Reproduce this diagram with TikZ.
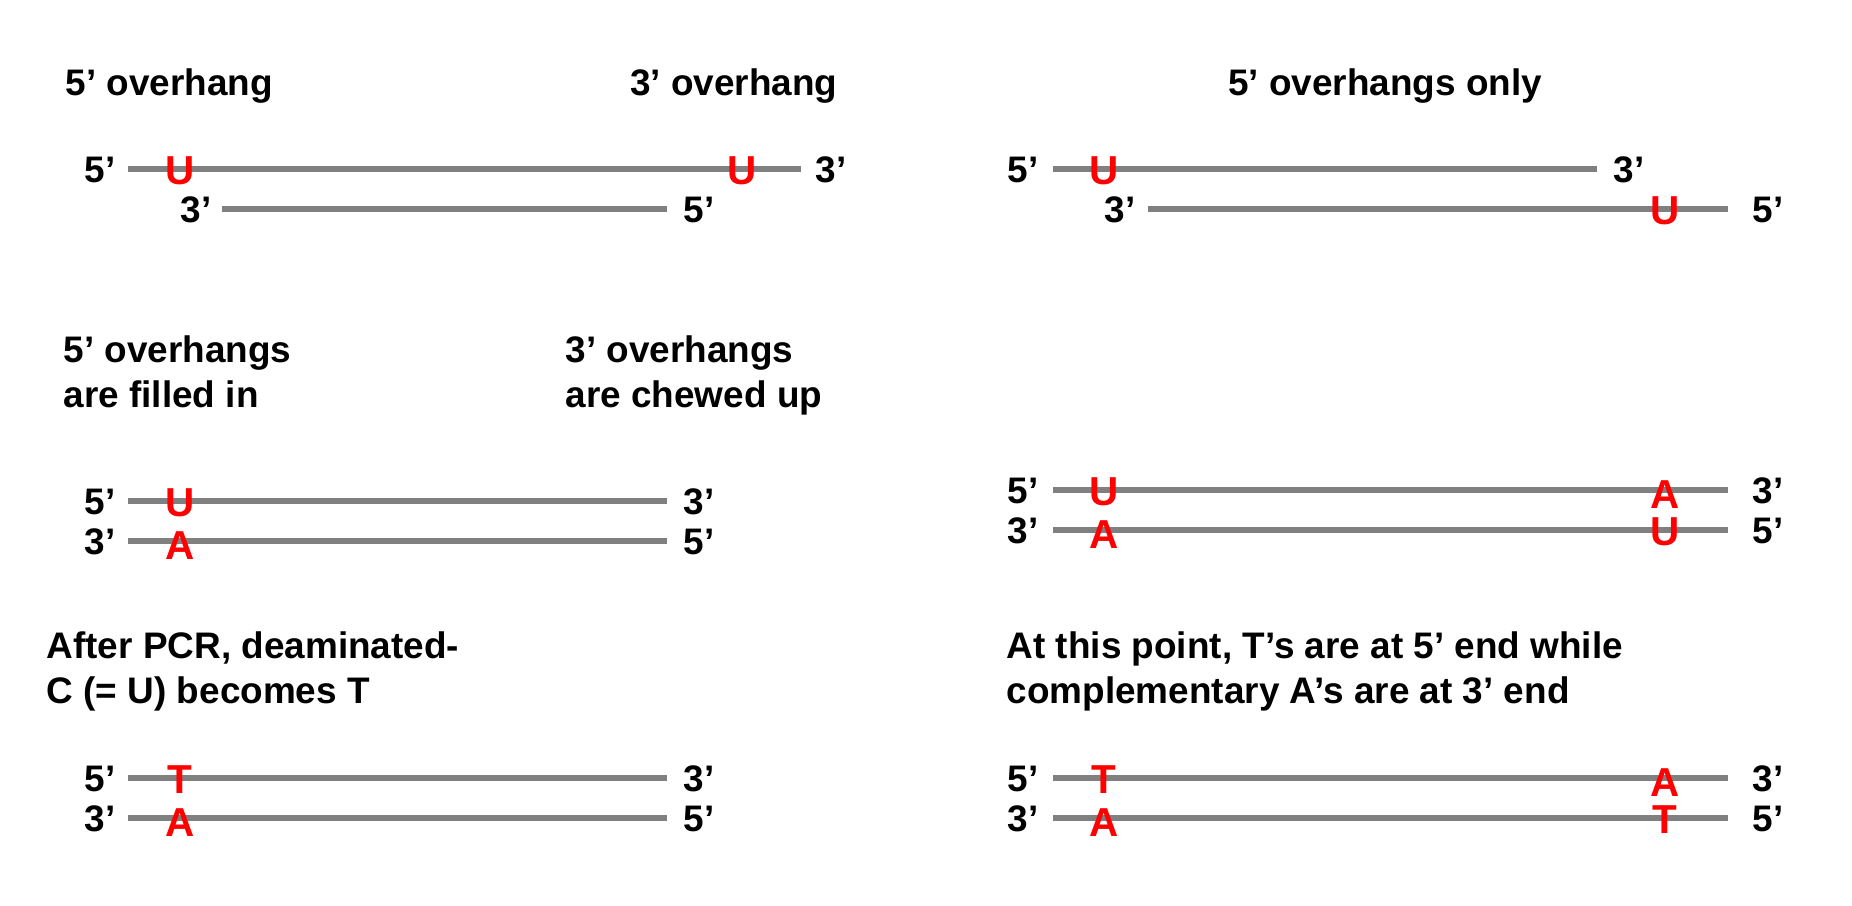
\documentclass[tikz,border=0pt]{standalone}
\usepackage{fontspec}
\setmainfont{Liberation Sans}
\usetikzlibrary{calc}
\definecolor{dnagray}{RGB}{128,128,128}
\definecolor{nucred}{RGB}{255,0,0}

\begin{document}
\begin{tikzpicture}[x=0.01cm,y=-0.01cm,
  font=\fontsize{10.5}{12.8}\selectfont\bfseries,
  strand/.style={line width=1.45pt,draw=dnagray},
  head/.style={anchor=base west,align=left,inner sep=0pt},
  endl/.style={inner sep=0pt,anchor=base east},
  endr/.style={inner sep=0pt,anchor=base west},
  nuc/.style={inner sep=0pt,anchor=base,text=nucred,
    font=\fontsize{11.5}{13}\selectfont\bfseries}]
\useasboundingbox (0,0) rectangle (1852,905);
% overhangs before repair
\node[head] (h1a) at (65,95) {5’ overhang};
\node[head,anchor=base east] (h1b) at (838,95) {3’ overhang};
\coordinate (a1) at (128,169); \coordinate (a2) at (801,169);
\coordinate (b1) at (222,209); \coordinate (b2) at (667,209);
\draw[strand] (a1) -- (a2);
\draw[strand] (b1) -- (b2);
\node[endl] (a1l) at ($(a1)+(-12,13)$) {5’};
\node[endr] (a2l) at ($(a2)+(14,13)$) {3’};
\node[endl] (b1l) at ($(b1)+(-10,13)$) {3’};
\node[endr] (b2l) at ($(b2)+(16,13)$) {5’};
\node[nuc] (a1n) at ($(a1)+(52,15)$) {U};
\node[nuc] (a2n) at ($(a2)+(-59,15)$) {U};
% 5' overhangs only
\node[head,anchor=base] (h2) at (1385,95) {5’ overhangs only};
\coordinate (c1) at (1053,169); \coordinate (c2) at (1597,169);
\coordinate (d1) at (1148,209); \coordinate (d2) at (1728,209);
\draw[strand] (c1) -- (c2);
\draw[strand] (d1) -- (d2);
\node[endl] (c1l) at ($(c1)+(-14,13)$) {5’};
\node[endr] (c2l) at ($(c2)+(16,13)$) {3’};
\node[endl] (d1l) at ($(d1)+(-12,13)$) {3’};
\node[endr] (d2l) at ($(d2)+(24,13)$) {5’};
\node[nuc] (c1n) at ($(c1)+(51,15)$) {U};
\node[nuc] (d2n) at ($(d2)+(-63,15)$) {U};
% after end repair
\node[head] (h3a) at (63,407) {5’ overhangs\\are filled in};
\node[head] (h3b) at (565,407) {3’ overhangs\\are chewed up};
\coordinate (e1) at (128,501); \coordinate (e2) at (667,501);
\coordinate (f1) at (128,541); \coordinate (f2) at (667,541);
\draw[strand] (e1) -- (e2);
\draw[strand] (f1) -- (f2);
\node[endl] (e1l) at ($(e1)+(-12,13)$) {5’};
\node[endr] (e2l) at ($(e2)+(16,13)$) {3’};
\node[endl] (f1l) at ($(f1)+(-12,13)$) {3’};
\node[endr] (f2l) at ($(f2)+(16,13)$) {5’};
\node[nuc] (e1n) at ($(e1)+(52,15)$) {U};
\node[nuc] (f1n) at ($(f1)+(52,18)$) {A};
\coordinate (g1) at (1053,490); \coordinate (g2) at (1728,490);
\coordinate (k1) at (1053,530); \coordinate (k2) at (1728,530);
\draw[strand] (g1) -- (g2);
\draw[strand] (k1) -- (k2);
\node[endl] (g1l) at ($(g1)+(-14,13)$) {5’};
\node[endr] (g2l) at ($(g2)+(24,13)$) {3’};
\node[endl] (k1l) at ($(k1)+(-14,13)$) {3’};
\node[endr] (k2l) at ($(k2)+(24,13)$) {5’};
\node[nuc] (g1n) at ($(g1)+(51,15)$) {U};
\node[nuc] (g2n) at ($(g2)+(-63,18)$) {A};
\node[nuc] (k1n) at ($(k1)+(51,18)$) {A};
\node[nuc] (k2n) at ($(k2)+(-63,15)$) {U};
% after PCR
\node[head] (h4a) at (46,703) {After PCR, deaminated-\\C (= U) becomes T};
\node[head] (h4b) at (1006,703) {At this point, T’s are at 5’ end while\\complementary A’s are at 3’ end};
\coordinate (m1) at (128,778); \coordinate (m2) at (667,778);
\coordinate (n1) at (128,818); \coordinate (n2) at (667,818);
\draw[strand] (m1) -- (m2);
\draw[strand] (n1) -- (n2);
\node[endl] (m1l) at ($(m1)+(-12,13)$) {5’};
\node[endr] (m2l) at ($(m2)+(16,13)$) {3’};
\node[endl] (n1l) at ($(n1)+(-12,13)$) {3’};
\node[endr] (n2l) at ($(n2)+(16,13)$) {5’};
\node[nuc] (m1n) at ($(m1)+(52,15)$) {T};
\node[nuc] (n1n) at ($(n1)+(52,18)$) {A};
\coordinate (p1) at (1053,778); \coordinate (p2) at (1728,778);
\coordinate (q1) at (1053,818); \coordinate (q2) at (1728,818);
\draw[strand] (p1) -- (p2);
\draw[strand] (q1) -- (q2);
\node[endl] (p1l) at ($(p1)+(-14,13)$) {5’};
\node[endr] (p2l) at ($(p2)+(24,13)$) {3’};
\node[endl] (q1l) at ($(q1)+(-14,13)$) {3’};
\node[endr] (q2l) at ($(q2)+(24,13)$) {5’};
\node[nuc] (p1n) at ($(p1)+(51,15)$) {T};
\node[nuc] (p2n) at ($(p2)+(-63,18)$) {A};
\node[nuc] (q1n) at ($(q1)+(51,18)$) {A};
\node[nuc] (q2n) at ($(q2)+(-63,15)$) {T};
\end{tikzpicture}
\end{document}
